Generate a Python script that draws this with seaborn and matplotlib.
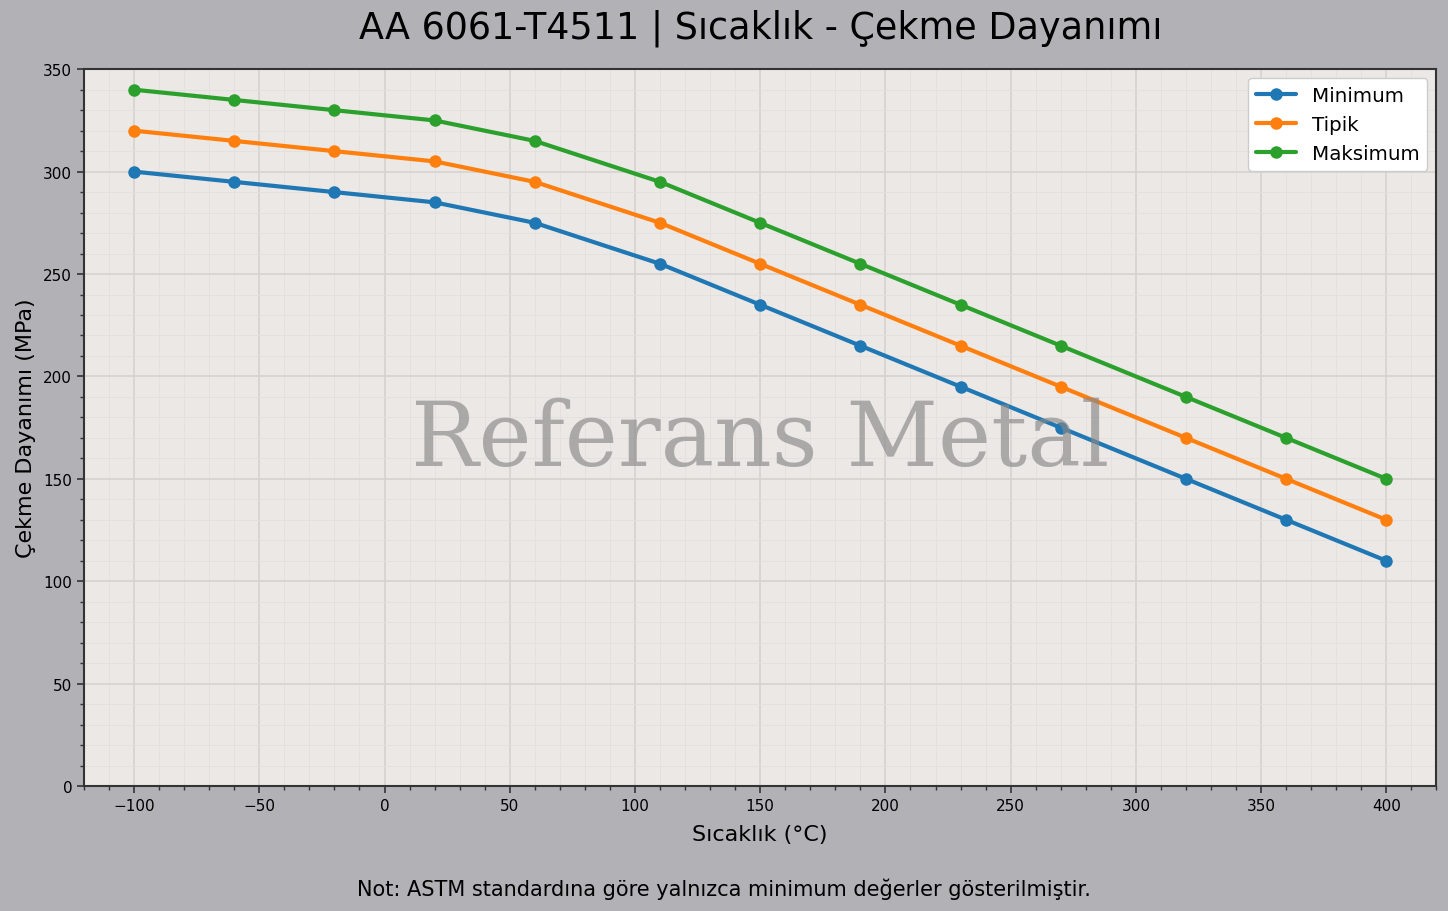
import numpy as np
import pandas as pd
import matplotlib
matplotlib.use('Agg')
import matplotlib.pyplot as plt
import seaborn as sns
from matplotlib.ticker import MultipleLocator

sicaklik = [-100, -60, -20, 20, 60, 110, 150, 190, 230, 270, 320, 360, 400]
minimum = [300, 295, 290, 285, 275, 255, 235, 215, 195, 175, 150, 130, 110]
tipik = [320, 315, 310, 305, 295, 275, 255, 235, 215, 195, 170, 150, 130]
maksimum = [340, 335, 330, 325, 315, 295, 275, 255, 235, 215, 190, 170, 150]

seri_adlari = ['Minimum', 'Tipik', 'Maksimum']
renkler = ['#1f77b4', '#ff7f0e', '#2ca02c']

df = pd.DataFrame({'Sıcaklık': sicaklik, 'Minimum': minimum,
                   'Tipik': tipik, 'Maksimum': maksimum})
df = df.melt(id_vars='Sıcaklık', var_name='Seri', value_name='Dayanım')

sns.set_style('ticks')
plt.rcParams['font.family'] = ['DejaVu Sans']
plt.rcParams['text.color'] = 'black'
plt.rcParams['axes.labelcolor'] = 'black'
plt.rcParams['xtick.color'] = 'black'
plt.rcParams['ytick.color'] = 'black'

fig = plt.figure(figsize=(14.48, 9.12), dpi=100)
fig.patch.set_facecolor('#b2b1b6')
ax = fig.add_axes([0.058, 0.137, 0.934, 0.786])
ax.set_facecolor('#ebe8e6')

sns.lineplot(data=df, x='Sıcaklık', y='Dayanım', hue='Seri',
             hue_order=seri_adlari, palette=renkler, marker='o',
             markersize=9, markeredgewidth=0, linewidth=3, ax=ax)

ax.set_xlim(-120, 420)
ax.set_ylim(0, 350)
ax.xaxis.set_major_locator(MultipleLocator(50))
ax.xaxis.set_minor_locator(MultipleLocator(10))
ax.yaxis.set_major_locator(MultipleLocator(50))
ax.yaxis.set_minor_locator(MultipleLocator(10))
ax.grid(which='major', color='#d6d2d0', linewidth=1.2)
ax.grid(which='minor', color='#e2dfdd', linewidth=0.6)
ax.set_axisbelow(True)
ax.tick_params(which='major', labelsize=11, length=5, width=1.2, color='#333333')
ax.tick_params(which='minor', length=3, width=1, color='#333333')
for s in ax.spines.values():
    s.set_color('#333333')
    s.set_linewidth(1.5)

ax.set_xlabel('Sıcaklık (°C)', fontsize=16, labelpad=8)
ax.set_ylabel('Çekme Dayanımı (MPa)', fontsize=16, labelpad=5)
fig.text(0.525, 0.969, 'AA 6061-T4511 | Sıcaklık - Çekme Dayanımı',
         ha='center', va='center', fontsize=26.3)

ax.text(0.5, 0.482, 'Referans Metal', transform=ax.transAxes, ha='center',
        va='center', fontsize=64.5, family='DejaVu Serif', color='#888888',
        alpha=0.65, zorder=5)

leg = ax.legend(loc='upper right', fontsize=14.3, frameon=True, facecolor='white',
                edgecolor='#cccccc', framealpha=1, borderaxespad=0.45)

fig.text(0.5, 0.025, 'Not: ASTM standardına göre yalnızca minimum değerler gösterilmiştir.',
         ha='center', va='center', fontsize=15)

fig.savefig('out.png', dpi=100, facecolor=fig.get_facecolor())
